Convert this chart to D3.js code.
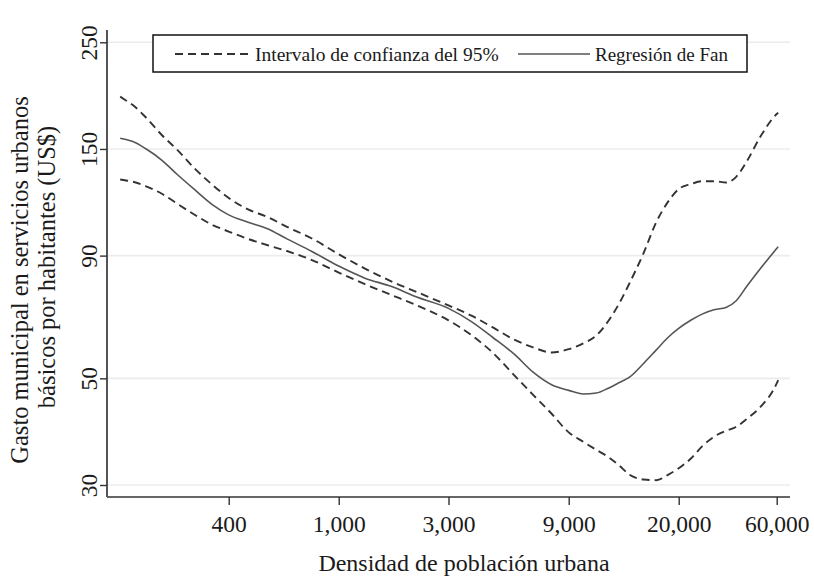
<!DOCTYPE html>
<html>
<head>
<meta charset="utf-8">
<script src="https://cdn.jsdelivr.net/npm/d3@7"></script>
<style>
  html, body { margin: 0; padding: 0; background: #fff; }
  svg { display: block; }
  text { font-family: "Liberation Serif", "DejaVu Serif", serif; fill: #1a1a1a; }
</style>
</head>
<body>
<svg id="chart" width="814" height="576"></svg>
<script>
// ---- Data ----
const densidad = [162, 170, 180, 200, 230, 260, 300, 350, 400, 470, 550, 650, 800, 1000, 1300, 1700, 2200, 3000, 3700, 4500, 5500, 6500, 7700, 9000, 10000, 11000, 12000, 13000, 14000, 15500, 17000, 18500, 20000, 23000, 26000, 30000, 34000, 38000, 43000, 50000, 60000, 61000];
const regresionFan = [157.9, 156.9, 155.4, 150.3, 141.9, 132.9, 123.7, 114.8, 109.4, 105.6, 102.5, 97.5, 91.8, 85.6, 80.8, 77.6, 73.7, 69.9, 65.6, 60.8, 56.0, 51.5, 48.5, 47.2, 46.4, 46.6, 47.7, 49.0, 50.3, 53.7, 57.3, 60.8, 63.5, 66.1, 68.0, 69.5, 70.2, 72.4, 77.8, 84.6, 93.1, 93.9];
const icSuperior = [192.7, 189.2, 185.1, 174.8, 160.0, 149.6, 136.9, 126.2, 118.6, 112.3, 108.4, 103.3, 97.7, 90.6, 84.6, 79.5, 75.5, 70.9, 67.5, 63.8, 60.1, 58.0, 56.6, 57.5, 59.1, 61.4, 65.8, 71.7, 78.9, 91.1, 105.7, 116.4, 123.8, 126.8, 128.5, 128.5, 127.7, 131.1, 141.6, 159.2, 177.3, 178.4];
const icInferior = [129.6, 129.0, 128.2, 125.6, 120.9, 115.5, 109.6, 104.2, 101.0, 97.5, 94.7, 92.0, 88.1, 83.0, 78.5, 74.5, 70.8, 66.0, 61.5, 56.5, 50.6, 46.2, 42.2, 38.6, 36.9, 35.5, 34.3, 32.9, 31.5, 30.8, 30.7, 31.5, 32.5, 34.1, 36.1, 37.9, 38.9, 39.6, 41.2, 43.6, 48.8, 49.6];

const xTickValues = [400, 1000, 3000, 9000, 20000, 60000];
const xTickLabels = ["400", "1,000", "3,000", "9,000", "20,000", "60,000"];
const yTickValues = [30, 50, 90, 150, 250];
const yTickLabels = ["30", "50", "90", "150", "250"];

const xTitle = "Densidad de población urbana";
const yTitle = ["Gasto municipal en servicios urbanos", "básicos por habitantes (US$)"];
const legendLabels = ["Intervalo de confianza del 95%", "Regresión de Fan"];

// ---- Layout ----
const svg = d3.select("#chart");
const plotL = 107, plotR = 790, plotT = 30, plotB = 497;
// tick positions along the axis (the reference's axis spacing is not uniform)
const xTickPx = [228.7, 338.7, 448.5, 568.7, 678.7, 776.7];

const x = d3.scaleLog().domain(xTickValues).range(xTickPx);
const y = d3.scaleLog().domain([30, 250]).range([485, 42.3]);

// gridlines
svg.append("g").selectAll("line").data(yTickValues).join("line")
  .attr("x1", plotL + 1).attr("x2", plotR)
  .attr("y1", d => y(d)).attr("y2", d => y(d))
  .attr("stroke", "#ececec").attr("stroke-width", 1.6);

// axes
const xAxis = d3.axisBottom(x).tickValues(xTickValues)
  .tickFormat((d, i) => xTickLabels[i]).tickSize(8).tickSizeOuter(0).tickPadding(10);
const gx = svg.append("g").attr("transform", `translate(0,${plotB})`).call(xAxis);
gx.select(".domain").attr("d", `M${plotL},0H${plotR}`).attr("stroke", "#333").attr("stroke-width", 1.6);
gx.selectAll(".tick line").attr("stroke", "#333").attr("stroke-width", 1.4);
gx.selectAll(".tick text").attr("font-size", 23.5).attr("font-family", "Liberation Serif").attr("fill", "#1a1a1a");

const yAxis = d3.axisLeft(y).tickValues(yTickValues)
  .tickFormat((d, i) => yTickLabels[i]).tickSize(7).tickSizeOuter(0).tickPadding(6);
const gy = svg.append("g").attr("transform", `translate(${plotL},0)`).call(yAxis);
gy.select(".domain").attr("d", `M0,${plotT}V${plotB}`).attr("stroke", "#555").attr("stroke-width", 2);
gy.selectAll(".tick line").attr("stroke", "#333").attr("stroke-width", 1.4);
gy.selectAll(".tick text")
  .attr("font-size", 23.5).attr("font-family", "Liberation Serif").attr("fill", "#1a1a1a")
  .attr("x", null).attr("dy", null)
  .attr("text-anchor", "middle")
  .attr("transform", "translate(-10,0) rotate(-90)");

// lines
const line = d3.line().x(d => x(d[0])).y(d => y(d[1])).curve(d3.curveMonotoneX);
const series = [
  { vals: icSuperior, dash: "8,5", color: "#333", w: 1.9 },
  { vals: icInferior, dash: "8,5", color: "#333", w: 1.9 },
  { vals: regresionFan, dash: null, color: "#555", w: 1.6 }
];
svg.append("g").selectAll("path").data(series).join("path")
  .attr("d", s => line(densidad.map((d, i) => [d, s.vals[i]])))
  .attr("fill", "none")
  .attr("stroke", s => s.color)
  .attr("stroke-width", s => s.w)
  .attr("stroke-dasharray", s => s.dash);

// legend
const lg = svg.append("g");
lg.append("rect").attr("x", 153).attr("y", 35).attr("width", 594).attr("height", 37)
  .attr("fill", "#fff").attr("stroke", "#111").attr("stroke-width", 1.5);
lg.append("line").attr("x1", 175).attr("x2", 250).attr("y1", 54).attr("y2", 54)
  .attr("stroke", "#333").attr("stroke-width", 1.9).attr("stroke-dasharray", "8,5");
lg.append("text").attr("x", 255).attr("y", 61).attr("font-size", 19.5).text(legendLabels[0]);
lg.append("line").attr("x1", 518).attr("x2", 590).attr("y1", 54).attr("y2", 54)
  .attr("stroke", "#555").attr("stroke-width", 1.6);
lg.append("text").attr("x", 595).attr("y", 61).attr("font-size", 19).text(legendLabels[1]);

// titles
svg.append("text").attr("x", 464).attr("y", 571).attr("text-anchor", "middle")
  .attr("font-size", 24).text(xTitle);
svg.append("text").attr("transform", "translate(28,280) rotate(-90)").attr("text-anchor", "middle")
  .attr("font-size", 24.5).text(yTitle[0]);
svg.append("text").attr("transform", "translate(55,267) rotate(-90)").attr("text-anchor", "middle")
  .attr("font-size", 24.5).text(yTitle[1]);
</script>
</body>
</html>
